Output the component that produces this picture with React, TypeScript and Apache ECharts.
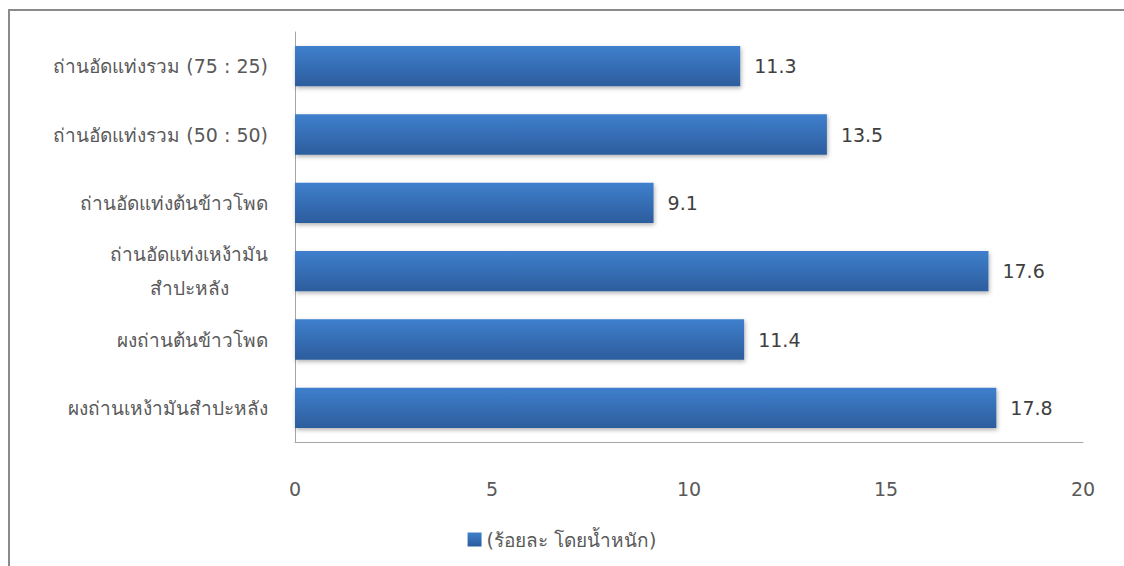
import React, { useEffect, useRef } from "react";
import * as echarts from "echarts";

// Categories listed bottom-to-top (ECharts category axis starts at the bottom)
const categories: string[] = [
  "ผงถ่านเหง้ามันสำปะหลัง",
  "ผงถ่านต้นข้าวโพด",
  "ถ่านอัดแท่งเหง้ามัน\nสำปะหลัง",
  "ถ่านอัดแท่งต้นข้าวโพด",
  "ถ่านอัดแท่งรวม (50 : 50)",
  "ถ่านอัดแท่งรวม (75 : 25)",
];
const values: number[] = [17.8, 11.4, 17.6, 9.1, 13.5, 11.3];
const seriesName = "(ร้อยละ โดยน้ำหนัก)";
const xMin = 0;
const xMax = 20;
const xStep = 5;

const FONT = '"DejaVu Sans", "Noto Sans", sans-serif';
const FS = 19;

export default function App() {
  const ref = useRef<HTMLDivElement>(null);

  useEffect(() => {
    if (!ref.current) return;
    const chart = echarts.init(ref.current, null, { renderer: "svg" });
    chart.setOption({
      animation: false,
      backgroundColor: "#ffffff",
      textStyle: { fontFamily: FONT },
      graphic: [
        {
          type: "rect",
          shape: { x: 9, y: 10, width: 1130, height: 580 },
          style: { fill: "none", stroke: "#8a8a8a", lineWidth: 2 },
          silent: true,
        },
      ],
      grid: { left: 295, right: 41, top: 32, bottom: 124, containLabel: false },
      legend: {
        bottom: 12,
        left: "center",
        itemWidth: 14,
        itemHeight: 14,
        itemGap: 6,
        icon: "rect",
        textStyle: { color: "#595959", fontSize: FS, fontFamily: FONT },
        data: [seriesName],
      },
      xAxis: {
        type: "value",
        min: xMin,
        max: xMax,
        interval: xStep,
        axisLine: { show: true, lineStyle: { color: "#a6a6a6", width: 1 } },
        axisTick: { show: false },
        splitLine: { show: false },
        axisLabel: { color: "#595959", fontSize: FS, margin: 37, fontFamily: FONT },
      },
      yAxis: {
        type: "category",
        data: categories,
        axisLine: { show: true, lineStyle: { color: "#a6a6a6", width: 1 } },
        axisTick: { show: false },
        axisLabel: {
          color: "#595959",
          fontSize: FS,
          margin: 27,
          lineHeight: 34,
          fontFamily: FONT,
          formatter: (v: string) => `{c|${v}}`,
          rich: {
            c: { align: "center", color: "#595959", fontSize: FS, lineHeight: 34, fontFamily: FONT },
          },
        },
      },
      series: [
        {
          name: seriesName,
          type: "bar",
          data: values,
          barCategoryGap: "41%",
          itemStyle: {
            color: new echarts.graphic.LinearGradient(0, 0, 0, 1, [
              { offset: 0, color: "#3f7fcd" },
              { offset: 1, color: "#2c5d9d" },
            ]),
            shadowColor: "rgba(0,0,0,0.3)",
            shadowBlur: 4,
            shadowOffsetX: 1,
            shadowOffsetY: 2,
          },
          label: {
            show: true,
            position: "right",
            distance: 14,
            color: "#404040",
            fontSize: FS,
            fontFamily: FONT,
            formatter: (p: any) => p.value.toFixed(1),
          },
        },
      ],
    });
    return () => chart.dispose();
  }, []);

  return (
    <div
      ref={ref}
      style={{ position: "fixed", left: 0, top: 0, width: 1124, height: 566 }}
    />
  );
}
